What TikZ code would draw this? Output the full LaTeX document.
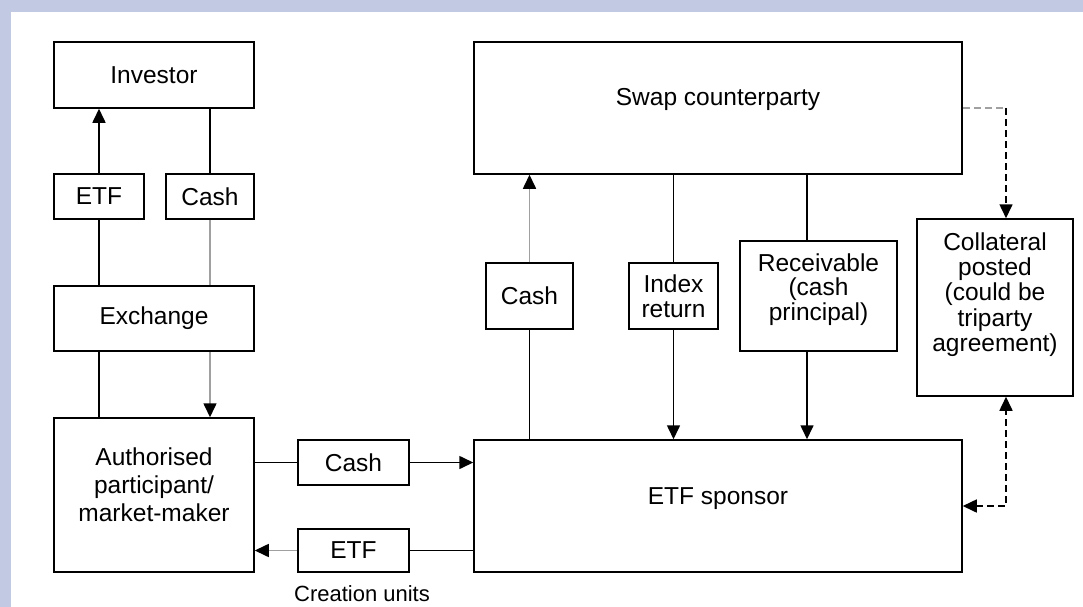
\documentclass[tikz,border=0pt]{standalone}
\usepackage{fontspec}
\setmainfont{Liberation Sans}
\usetikzlibrary{arrows.meta,calc}
\definecolor{framebg}{HTML}{C2C9E2}
\definecolor{flowgray}{HTML}{A0A0A0}

\begin{document}
\begin{tikzpicture}[x=1pt,y=-1pt,
    every node/.style={font=\fontsize{24.5}{28}\selectfont},
    box/.style={draw,line width=1.5pt,inner sep=0pt,align=center},
    tight/.style={font=\fontsize{24.5}{24.5}\selectfont},
    >={Triangle[length=14pt,width=13pt]},
    flow/.style={line width=1.6pt},
    garr/.style={-{Triangle[length=14pt,width=13pt,color=black]},line width=1.6pt,draw=flowgray},
    dline/.style={line width=1.6pt,dash pattern=on 7pt off 4pt}
]
\useasboundingbox (0,0) rectangle (1083,607);
\fill[framebg] (0,0) rectangle (1083,12);
\fill[framebg] (0,0) rectangle (11,607);

% left column
\node[box,minimum width=200pt,minimum height=66pt] (inv) at (154,75) {Investor};
\node[box,minimum width=90pt,minimum height=45pt] (etfT) at (99,196.5) {ETF};
\node[box,minimum width=88pt,minimum height=45pt] (cashT) at (210,196.5) {Cash};
\node[box,minimum width=200pt,minimum height=65pt] (exch) at (154,318.5) {Exchange};
\node[box,minimum width=200pt,minimum height=154pt,text depth=21pt] (ap) at (154,495) {Authorised\\participant/\\market-maker};

% creation / redemption
\node[box,minimum width=111pt,minimum height=45pt] (cashM) at (353.5,462.5) {Cash};
\node[box,minimum width=111pt,minimum height=43pt] (etfB) at (353.5,550.5) {ETF};
\node[font=\fontsize{22}{26}\selectfont] (cu) at (362,594) {Creation units};

% sponsor and swap
\node[box,minimum width=488pt,minimum height=132pt,text depth=19pt] (sponsor) at (718,506) {ETF sponsor};
\node[box,minimum width=488pt,minimum height=132pt,text depth=22pt] (swap) at (718,108) {Swap counterparty};
\node[box,minimum width=87pt,minimum height=66pt] (cashV) at (529.5,296) {Cash};
\node[box,tight,minimum width=89pt,minimum height=66pt] (idx) at (673.5,296) {Index\\return};
\node[box,tight,minimum width=157pt,minimum height=110pt,text depth=18pt] (recv) at (818.5,296) {Receivable\\(cash\\principal)};
\node[box,font=\fontsize{24.5}{25.25}\selectfont,minimum width=156pt,minimum height=177pt,text depth=31pt] (coll) at (995,307.5) {Collateral\\posted\\(could be\\triparty\\agreement)};

% flows on the left
\draw[flow,->] (etfT.north) -- (etfT.north |- inv.south);
\draw[flow] (cashT.north) -- (cashT.north |- inv.south);
\draw[flow] (etfT.south) -- (etfT.south |- exch.north);
\draw[flow,draw=flowgray] (cashT.south) -- (cashT.south |- exch.north);
\draw[flow] (exch.south -| etfT.south) -- (ap.north -| etfT.south);
\draw[garr] (exch.south -| cashT.south) -- (ap.north -| cashT.south);

% AP <-> sponsor
\draw[flow] (ap.east |- cashM.west) -- (cashM.west);
\draw[flow,->] (cashM.east) -- (cashM.east -| sponsor.west);
\draw[flow] (etfB.east) -- (etfB.east -| sponsor.west);
\draw[garr] (etfB.west) -- (etfB.west -| ap.east);

% sponsor <-> swap
\draw[garr] (cashV.north) -- (cashV.north |- swap.south);
\draw[flow] (cashV.south) -- (cashV.south |- sponsor.north);
\draw[flow] (idx.north |- swap.south) -- (idx.north);
\draw[flow,->] (idx.south) -- (idx.south |- sponsor.north);
\coordinate (rtop) at ([xshift=-11.5pt]recv.north);
\coordinate (rbot) at ([xshift=-11.5pt]recv.south);
\draw[flow] (rtop |- swap.south) -- (rtop);
\draw[flow,->] (rbot) -- (rbot |- sponsor.north);

% collateral
\coordinate (ctop) at ([xshift=11pt]coll.north);
\coordinate (cbot) at ([xshift=11pt]coll.south);
\coordinate (bend) at (ctop |- swap.east);
\draw[dline,draw=flowgray] (swap.east) -- (bend);
\draw[dline,->] (bend) -- (ctop);
\draw[dline,<->] (sponsor.east) -| (cbot);
\end{tikzpicture}
\end{document}
